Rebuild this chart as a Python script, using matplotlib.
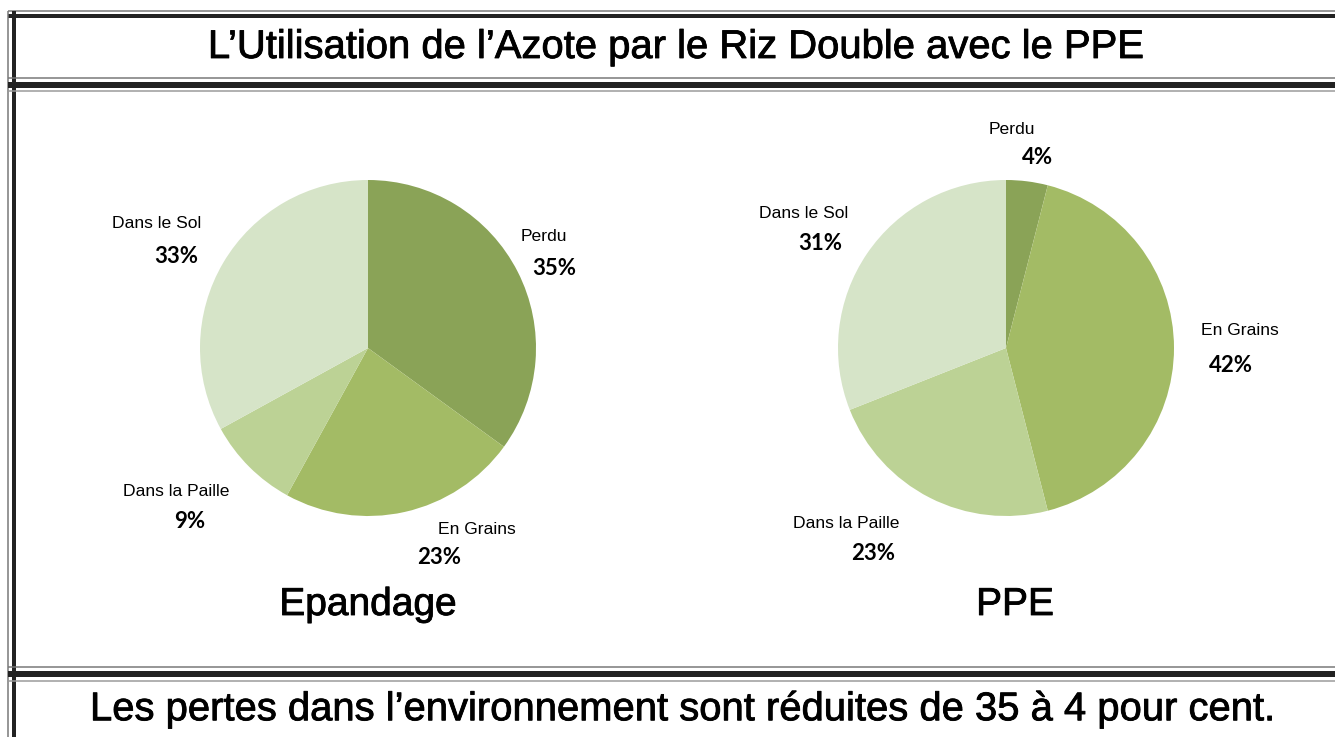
import matplotlib.pyplot as plt
import matplotlib.patheffects as pe

# --- data ---
labels = ["Perdu", "En Grains", "Dans la Paille", "Dans le Sol"]
epandage = [35, 23, 9, 33]
ppe = [4, 42, 23, 31]
colors = ["#8aa357", "#a3bb65", "#bcd295", "#d6e4c8"]

title = "L\u2019Utilisation de l\u2019Azote par le Riz Double avec le PPE"
footer = "Les pertes dans l\u2019environnement sont r\u00e9duites de 35 \u00e0 4 pour cent."

# label positions (pixels): (name x, name y, pct x, pct y)
pos_left = [(544, 236, 554, 268), (477, 530, 439, 557),
            (176, 491, 190, 522), (157, 223, 176, 256)]
pos_right = [(1012, 129, 1038, 157), (1240, 330, 1231, 365),
             (846, 523, 873, 553), (804, 213, 820, 243)]

W, H = 1335, 737
fig = plt.figure(figsize=(W / 100, H / 100), dpi=100)
bg = fig.add_axes([0, 0, 1, 1])
bg.set_xlim(0, W)
bg.set_ylim(H, 0)
bg.axis("off")

px = 72 / 100  # pixel -> points


def hline(y, lw, color):
    bg.plot([8, W], [y, y], color=color, lw=lw * px, solid_capstyle="butt")


def vline(x, lw, color):
    bg.plot([x, x], [11, H], color=color, lw=lw * px, solid_capstyle="butt")


# frame
hline(11, 1.5, "#777777")
hline(16, 4, "#222222")
vline(8, 1.5, "#777777")
vline(13.5, 4, "#222222")
hline(78, 1.5, "#777777")
hline(85, 6, "#222222")
hline(91, 1.5, "#999999")
hline(667, 1.5, "#777777")
hline(674, 6, "#222222")
hline(681, 1.5, "#999999")

sans = "Liberation Sans"
heavy = [pe.withStroke(linewidth=0.6, foreground="black")]
bg.text(676, 47, title, ha="center", va="center", fontsize=28.8, family=sans,
        path_effects=heavy)
bg.text(683, 709, footer, ha="center", va="center", fontsize=28.8, family=sans,
        path_effects=heavy)
bg.text(368, 605, "Epandage", ha="center", va="center", fontsize=28, family=sans,
        path_effects=heavy)
bg.text(1015, 605, "PPE", ha="center", va="center", fontsize=28, family=sans,
        path_effects=heavy)


def draw_pie(cx, cy, r, values, positions):
    ax = fig.add_axes([(cx - r) / W, 1 - (cy + r) / H, 2 * r / W, 2 * r / H])
    ax.pie(values, colors=colors, startangle=90, counterclock=False,
           wedgeprops=dict(linewidth=0))
    ax.set_xlim(-1, 1)
    ax.set_ylim(-1, 1)
    for name, v, (nx, ny, tx, ty) in zip(labels, values, positions):
        bg.text(nx, ny, name, ha="center", va="center", fontsize=12.6, family=sans)
        bg.text(tx, ty, f"{v}%", ha="center", va="center", fontsize=16,
                family="Lato", fontweight="bold")


draw_pie(368, 348, 168, epandage, pos_left)
draw_pie(1006, 348, 168, ppe, pos_right)

fig.savefig("out.png", dpi=100)
